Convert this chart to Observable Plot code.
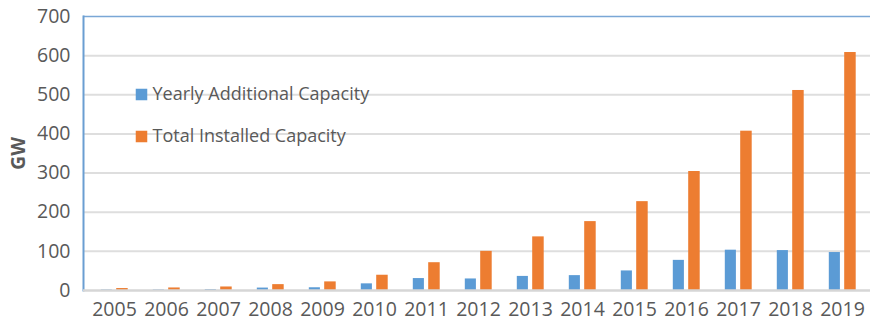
<!DOCTYPE html>
<html>
<head>
<meta charset="utf-8">
<script src="https://cdn.jsdelivr.net/npm/d3@7"></script>
<script src="https://cdn.jsdelivr.net/npm/@observablehq/plot@0.6"></script>
<style>
  html, body { margin: 0; padding: 0; background: #ffffff; overflow: hidden; }
  #chart svg { display: block; }
</style>
</head>
<body>
<div id="chart"></div>
<script>
// Solar PV capacity, GW
const years = ["2005", "2006", "2007", "2008", "2009", "2010", "2011", "2012",
               "2013", "2014", "2015", "2016", "2017", "2018", "2019"];
const yearlyAdditional = [1.4, 1.5, 2.5, 6.2, 7, 17, 30.5, 29.5, 36, 38, 50, 77, 103, 102, 97];
const totalInstalled = [5, 6.5, 9, 15, 22, 39, 71, 100, 137, 176, 227, 304, 407, 511, 608];
const series = ["Yearly Additional Capacity", "Total Installed Capacity"];
const seriesColors = ["#5b9bd5", "#ed7d31"];
const yTicks = [0, 100, 200, 300, 400, 500, 600, 700];

const rows = years.flatMap((year, i) => [
  {year, series: series[0], value: yearlyAdditional[i]},
  {year, series: series[1], value: totalInstalled[i]}
]);

const textColor = "#595959";
const font = "'Open Sans', 'Noto Sans', sans-serif";

// Legend placed inside the plot area, one row per series
const legendMarks = series.flatMap((name, i) => [
  Plot.dot([name], {
    frameAnchor: "top-left", dx: 58, dy: 78 + i * 42,
    symbol: "square", r: 6.5, fill: d => d, stroke: null
  }),
  Plot.text([name], {
    frameAnchor: "top-left", dx: 69, dy: 78 + i * 42,
    text: d => d, textAnchor: "start", lineAnchor: "middle",
    fontSize: 18, fill: textColor
  })
]);

const chart = Plot.plot({
  width: 870,
  height: 324,
  marginTop: 16,
  marginBottom: 34,
  marginLeft: 83,
  marginRight: 0,
  style: {fontFamily: font, color: textColor, background: "#ffffff"},
  x: {domain: years, range: [83, 873], padding: 0},
  y: {domain: [0, 700]},
  color: {domain: series, range: seriesColors},
  marks: [
    Plot.ruleY(yTicks.filter(t => t > 0 && t < 700), {stroke: "#dedede", strokeWidth: 2}),
    Plot.ruleY([700], {stroke: "#7aa7d6", strokeWidth: 1.5}),
    Plot.frame({anchor: "left", stroke: "#6a9ed2", strokeWidth: 2}),
    ...legendMarks,
    Plot.barY(rows.filter(d => d.series === series[0]), {
      x: "year", y: "value", fill: "series", insetLeft: 12.8, insetRight: 28.1
    }),
    Plot.barY(rows.filter(d => d.series === series[1]), {
      x: "year", y: "value", fill: "series", insetLeft: 28.2, insetRight: 12.3
    }),
    Plot.ruleY([0], {stroke: "#d6d6d6", strokeWidth: 2.5}),
    Plot.axisY({ticks: yTicks, tickSize: 0, tickPadding: 13, fontSize: 19.5, label: null}),
    Plot.axisX({tickSize: 0, tickPadding: 12, fontSize: 19.5, label: null}),
    Plot.text(["GW"], {
      frameAnchor: "left", dx: -65, rotate: -90,
      textAnchor: "middle", lineAnchor: "middle",
      fontWeight: "bold", fontSize: 19.5, fill: textColor
    })
  ]
});

document.getElementById("chart").appendChild(chart);
</script>
</body>
</html>
